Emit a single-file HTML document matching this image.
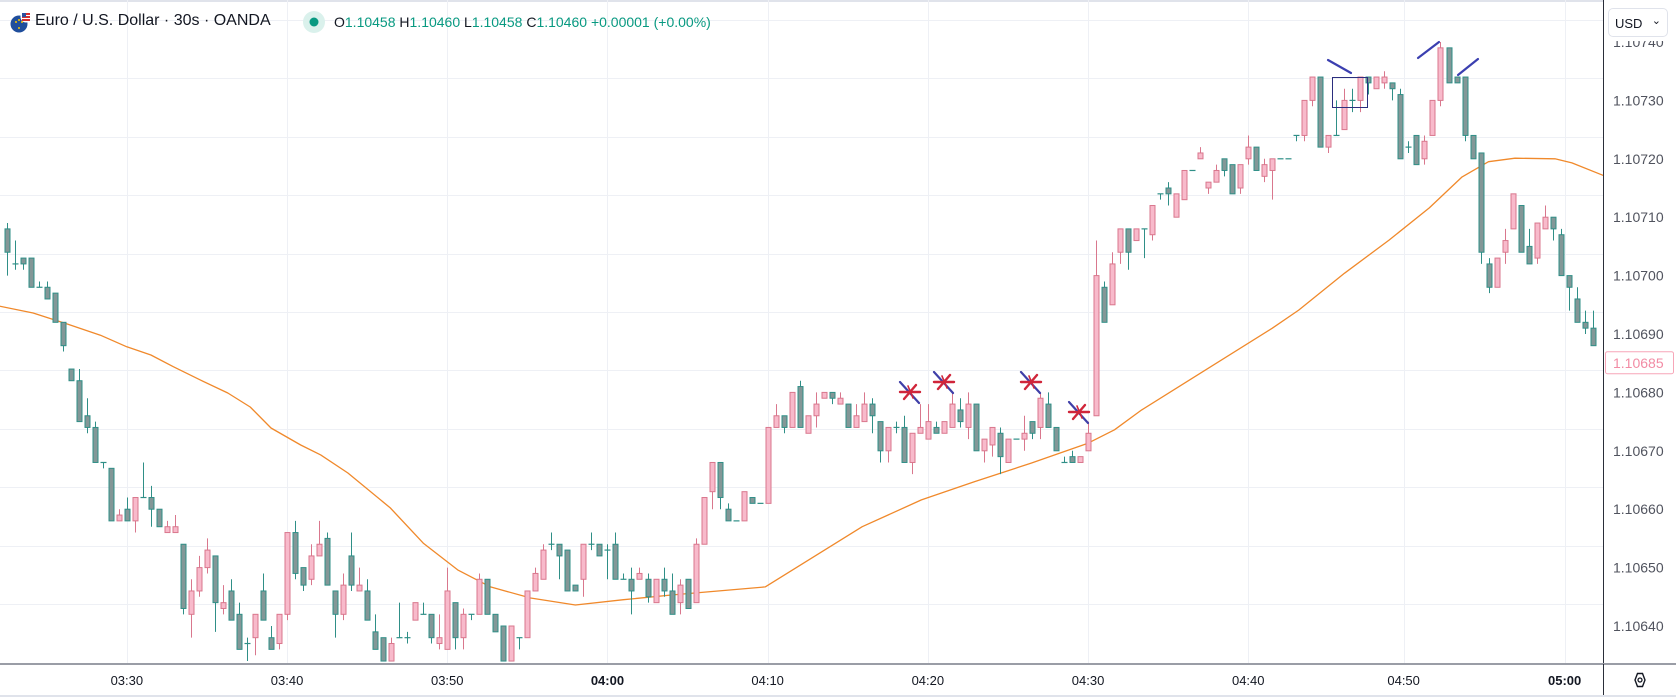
<!DOCTYPE html>
<html><head><meta charset="utf-8"><title>EURUSD 30s</title>
<style>
html,body{margin:0;padding:0;background:#fff;}
body{width:1676px;height:697px;overflow:hidden;position:relative;font-family:"Liberation Sans",Arial,sans-serif;}
#chart{position:absolute;left:0;top:0;}
.hdr{position:absolute;left:0;top:10px;height:24px;white-space:nowrap;color:#131722;}
.title{position:absolute;left:35px;top:2px;font-size:16px;}
.ohlc{position:absolute;left:334px;top:4px;font-size:14px;}
.ohlc b{font-weight:normal;color:#131722;}
.ohlc span{color:#089981;}
.usdwrap{position:absolute;left:1605px;top:4px;width:71px;height:37px;background:#fff;}
.usd{position:absolute;left:1608px;top:8px;width:60px;height:29px;background:#fff;border:1px solid #e0e3eb;border-radius:5px;font-size:13px;color:#131722;box-sizing:border-box;}
.usd .t{position:absolute;left:6px;top:7px;}
.usd .c{position:absolute;right:6px;top:5px;font-size:11px;}
</style></head>
<body>
<svg id="chart" width="1676" height="697" xmlns="http://www.w3.org/2000/svg"></svg>

<div class="hdr">
  <svg style="position:absolute;left:8px;top:1px" width="26" height="24">
    <circle cx="11" cy="13" r="8.5" fill="#1f4e9c"/>
    <circle cx="8" cy="11" r="1" fill="#f5c400"/><circle cx="11" cy="9" r="1" fill="#f5c400"/><circle cx="14" cy="11" r="1" fill="#f5c400"/><circle cx="11" cy="17" r="1" fill="#f5c400"/>
    <circle cx="18" cy="6" r="5.5" fill="#fff"/>
    <rect x="14" y="2" width="8" height="2" fill="#d32f2f"/><rect x="14" y="5" width="8" height="2" fill="#d32f2f"/><rect x="14" y="8" width="8" height="2" fill="#d32f2f"/>
    <rect x="14" y="2" width="4" height="4" fill="#2c4f9e"/>
  </svg>
  <div class="title">Euro / U.S. Dollar · 30s · OANDA</div>
  <svg style="position:absolute;left:302px;top:0" width="24" height="24">
    <circle cx="12" cy="12" r="11" fill="#daf1ec"/><circle cx="12" cy="12" r="4.5" fill="#089981"/>
  </svg>
  <div class="ohlc"><b>O</b><span>1.10458</span> <b>H</b><span>1.10460</span> <b>L</b><span>1.10458</span> <b>C</b><span>1.10460</span> <span>+0.00001 (+0.00%)</span></div>
</div>
<div class="usdwrap"></div>
<div class="usd"><span class="t">USD</span><span class="c">&#8964;</span></div>

<script>
// ---- data (prices expressed in 0.00001 points above base 1.10600) ----
const PRICE_BASE = 1.10600;
const POINT = 0.00001;
const openPts = [108,102,103,103,98,98,97,92,84,82,76,74,68,67,58,60,58,62,62,60,56,56,54,42,46,50,52,43,46,42,37,38,46,38,37,42,56,50,48,52,55,46,42,52,46,46,39,38,34,38,38,41,42,42,37,36,44,38,42,42,48,42,40,34,38,38,46,48,54,54,53,47,48,54,54,53,54,48,48,48,48,44,48,46,44,48,44,54,63,68,60,58,58,62,61,61,74,76,74,81,73,76,79,80,78,78,74,75,78,75,70,74,74,68,73,72,74,73,74,77,74,78,70,71,73,68,72,72,75,74,78,74,68,69,68,70,76,98,95,104,108,106,108,107,114,115,110,113,118,120,115,116,120,119,115,120,122,117,118,120,120,124,124,130,134,122,124,125,130,130,134,132,133,133,131,122,124,120,124,130,139,134,134,124,121,102,98,104,108,112,105,103,108,110,107,100,96,92,91];
const highPts = [109,106,103,103,99,99,97,92,84,84,79,75,68,67,60,62,62,68,64,60,58,59,54,48,52,55,52,47,48,44,38,42,49,40,42,56,58,50,54,58,56,46,49,56,50,48,42,38,38,44,39,44,44,42,42,50,44,43,42,49,48,42,40,40,38,46,50,54,56,54,53,47,54,56,54,54,56,49,50,50,49,48,50,49,48,48,55,62,68,68,61,58,63,62,61,74,78,76,80,82,76,80,80,80,80,78,78,80,79,75,74,75,76,73,78,78,75,75,80,79,80,78,72,74,74,72,72,76,75,80,80,74,69,70,69,75,106,99,104,108,108,108,108,112,114,116,114,118,118,122,116,119,120,119,119,124,122,120,120,120,120,124,130,134,134,124,130,132,132,134,134,134,135,133,132,123,124,124,130,140,139,134,134,124,121,103,103,108,114,112,108,109,112,110,108,100,98,94,94];
const lowPts = [100,101,101,98,98,96,92,87,82,75,73,68,67,58,58,58,56,62,57,57,56,56,42,38,45,49,39,42,41,36,34,35,41,36,36,41,48,46,47,52,47,38,41,46,46,41,36,34,34,38,37,41,42,37,36,36,36,36,41,42,42,39,34,34,36,38,46,48,53,48,46,46,45,53,52,48,48,48,42,48,44,44,45,42,42,43,44,54,60,60,58,58,58,61,61,61,74,73,74,74,73,74,79,78,78,74,74,75,73,68,68,73,68,66,73,72,73,73,74,74,72,70,68,69,66,68,72,70,72,72,74,70,68,68,68,70,76,92,95,102,101,106,103,106,113,112,110,113,118,120,114,116,117,114,114,119,118,116,113,120,120,123,123,129,122,121,124,125,128,128,131,132,132,130,120,121,119,119,124,129,133,133,123,120,102,97,98,102,108,104,102,102,108,106,100,94,92,90,88];
const closePts = [104,102,102,98,98,96,92,88,82,75,74,68,68,58,59,58,62,62,60,57,57,57,43,46,50,53,44,44,41,36,37,42,41,36,42,56,49,47,52,54,47,42,47,47,47,41,36,34,37,38,38,44,42,38,38,46,38,42,42,48,42,39,34,40,38,46,49,53,54,52,46,46,54,54,52,53,48,48,46,49,45,48,46,42,47,43,54,62,68,62,58,58,63,61,61,74,76,74,80,74,76,78,80,79,79,74,76,78,76,70,74,74,68,73,74,75,73,75,78,75,78,70,72,74,69,72,72,73,73,79,74,70,68,68,69,73,100,92,102,108,104,108,108,112,114,114,114,118,118,121,116,118,118,114,119,122,118,119,120,120,120,124,130,134,122,124,124,130,130,134,133,134,134,132,120,122,119,123,130,139,133,133,124,120,104,98,103,106,114,104,102,109,110,108,100,98,92,91,88];
// moving average samples: bar index -> value (points)
const maIdx = [-1,3.3,7.6,11.7,15,18,20.8,24.2,27.6,30.4,33,36.7,39.2,42.6,47.9,52,56.3,60.4,65.4,71,77,83,94.7,106.8,114.2,120.8,127.9,135,138.3,141.7,158,161.3,167,172.6,177.6,181.7,185,188.3,193.3,195.4,199.4];
const maPts = [94.8,93.6,91.7,89.8,87.8,86.4,84.4,82.1,79.9,77.5,73.9,71.0,69.3,66.2,60.2,54.2,49.6,46.7,44.8,43.6,44.5,45.3,46.7,57.0,61.6,64.7,67.9,71.3,73.6,77.0,91.0,94.1,100.4,106.1,111.6,116.9,119.5,120.1,120.0,119.3,117.1];
// axis ticks
const priceTicks = [1.10740,1.10730,1.10720,1.10710,1.10700,1.10690,1.10680,1.10670,1.10660,1.10650,1.10640];
const timeTickLabels = ["03:30","03:40","03:50","04:00","04:10","04:20","04:30","04:40","04:50","05:00"];
const timeTickIdx = [15,35,55,75,95,115,135,155,174.4,194.5];
const timeTickBold = [false,false,false,true,false,false,false,false,false,true];
const lastPrice = 1.10685;

// ---- scales ----
const NS = "http://www.w3.org/2000/svg";
const svg = document.getElementById('chart');
const PLOT_R = 1603;
const AXIS_Y = 664;
function xOf(i){ return 6.7 + 8.01*i; }
function yOfPrice(p){ return 42 + (1.10740 - p)*584000; }
function priceOfPts(pt){ return PRICE_BASE + pt*POINT; }
function yOf(pt){ return yOfPrice(priceOfPts(pt)); }
function mk(tag, attrs){ const e=document.createElementNS(NS,tag); for(const k in attrs) e.setAttribute(k,attrs[k]); svg.appendChild(e); return e; }

let e = mk('rect',{x:0,y:0,width:1676,height:2,fill:'#e0e3eb'});



priceTicks.forEach(p=>{
  const gy = Math.round(yOfPrice(p) - 22) + 0.5;
  const g = mk('line',{x1:0,x2:PLOT_R,y1:gy,y2:gy,stroke:'#eef0f5','stroke-width':1});
  
  
});
timeTickIdx.forEach(t=>{
  const gx = Math.round(xOf(t)) + 0.5;
  const g = mk('line',{x1:gx,x2:gx,y1:0,y2:AXIS_Y,stroke:'#eef0f5','stroke-width':1});
  
  
});

let d = '';
maIdx.forEach((t,k)=>{ d += (k?'L':'M') + xOf(t).toFixed(1) + ' ' + yOf(maPts[k]).toFixed(1) + ' '; });
e = mk('path',{d:d,fill:'none',stroke:'#f0892b','stroke-width':1.3,'stroke-linejoin':'round'});



for(let i=0;i<openPts.length;i++){
  const o=openPts[i], h=highPts[i], l=lowPts[i], c=closePts[i];
  const up = c>o;
  const cx = Math.round(xOf(i)) + 0.5;
  const wick = up ? '#d9778d' : '#2f8f87';
  const g = document.createElementNS(NS,'g');
  
  
  svg.appendChild(g);
  const w = document.createElementNS(NS,'line');
  w.setAttribute('x1',cx); w.setAttribute('x2',cx);
  w.setAttribute('y1',yOf(h)); w.setAttribute('y2',yOf(l));
  w.setAttribute('stroke',wick); w.setAttribute('stroke-width',1);
  
  
  g.appendChild(w);
  const top = yOf(Math.max(o,c)), bot = yOf(Math.min(o,c));
  if (o===c){
    const dj = document.createElementNS(NS,'line');
    dj.setAttribute('x1',cx-3); dj.setAttribute('x2',cx+3);
    dj.setAttribute('y1',top); dj.setAttribute('y2',top);
    dj.setAttribute('stroke',wick); dj.setAttribute('stroke-width',1.2);
    
    
    g.appendChild(dj);
  } else {
    const r = document.createElementNS(NS,'rect');
    r.setAttribute('x',cx-2.5); r.setAttribute('width',5);
    r.setAttribute('y',top); r.setAttribute('height',Math.max(1,bot-top));
    r.setAttribute('fill', up ? '#f8bacb' : '#839797');
    r.setAttribute('stroke', up ? '#d9778d' : '#2f8f87');
    r.setAttribute('stroke-width',1);
    
    
    g.appendChild(r);
  }
}

const starCenters = [[910,392],[944,382],[1031,382],[1079,412]];
starCenters.forEach(s=>{
  const [sx,sy]=s;
  const g = document.createElementNS(NS,'g');
  
  
  svg.appendChild(g);
  const segs = [[sx-10,sy-10,sx+9,sy+11,'#3f3fa8',2.2],[sx-10,sy,sx+10,sy,'#d0253a',2.4],[sx-6,sy+7,sx+6,sy-7,'#d0253a',2.4],[sx-2,sy-6,sx+3,sy+6,'#d0253a',1.6]];
  segs.forEach(a=>{
    const ln=document.createElementNS(NS,'line');
    ln.setAttribute('x1',a[0]);ln.setAttribute('y1',a[1]);ln.setAttribute('x2',a[2]);ln.setAttribute('y2',a[3]);
    ln.setAttribute('stroke',a[4]);ln.setAttribute('stroke-width',a[5]);ln.setAttribute('stroke-linecap','round');
    g.appendChild(ln);
  });
});
[[1328,60,1351,73],[1418,58,1439,42],[1458,75,1478,59]].forEach(a=>{
  const ln = mk('line',{x1:a[0],y1:a[1],x2:a[2],y2:a[3],stroke:'#3b3fb0','stroke-width':2.2,'stroke-linecap':'round'});
  
  
});
e = mk('rect',{x:1332.5,y:77.5,width:35,height:30,fill:'none',stroke:'#2b2e7e','stroke-width':1});



e = mk('rect',{x:PLOT_R,y:0,width:1676-PLOT_R,height:697,fill:'#fff'});


e = mk('line',{x1:PLOT_R+0.5,x2:PLOT_R+0.5,y1:0,y2:697,stroke:'#2a2e39','stroke-width':1});


priceTicks.forEach(p=>{
  const t = mk('text',{x:1613,y:yOfPrice(p)+5,'font-size':14,fill:'#50535e','font-family':'Liberation Sans, Arial, sans-serif'});
  t.textContent = p.toFixed(5);
  
  
});
const ly = yOfPrice(lastPrice);
e = mk('rect',{x:PLOT_R+2.5,y:ly-11.5,width:68,height:22,rx:2,fill:'#fff',stroke:'#f7a6b8','stroke-width':1});


e = mk('text',{x:1613,y:ly+5,'font-size':14,fill:'#f28ba4','font-family':'Liberation Sans, Arial, sans-serif'});
e.textContent = lastPrice.toFixed(5);



e = mk('rect',{x:0,y:AXIS_Y,width:1676,height:697-AXIS_Y,fill:'#fff'});


e = mk('rect',{x:0,y:AXIS_Y-1,width:1676,height:2,fill:'#9a9da6'});


e = mk('line',{x1:PLOT_R+0.5,x2:PLOT_R+0.5,y1:AXIS_Y,y2:697,stroke:'#2a2e39','stroke-width':1});


e = mk('rect',{x:0,y:695,width:1676,height:2,fill:'#e0e3eb'});


timeTickLabels.forEach((lab,k)=>{
  const t = mk('text',{x:xOf(timeTickIdx[k]),y:685,'font-size':13,'text-anchor':'middle',fill:'#131722','font-weight':timeTickBold[k]?'bold':'normal','font-family':'Liberation Sans, Arial, sans-serif'});
  t.textContent = lab;
  
  
});
e = mk('path',{d:'M1635 680 L1637.5 673.5 L1642.5 673.5 L1645 680 L1642.5 686.5 L1637.5 686.5 Z',fill:'none',stroke:'#131722','stroke-width':1.4});


e = mk('circle',{cx:1640,cy:680,r:2,fill:'none',stroke:'#131722','stroke-width':1.3});


</script>
</body></html>
